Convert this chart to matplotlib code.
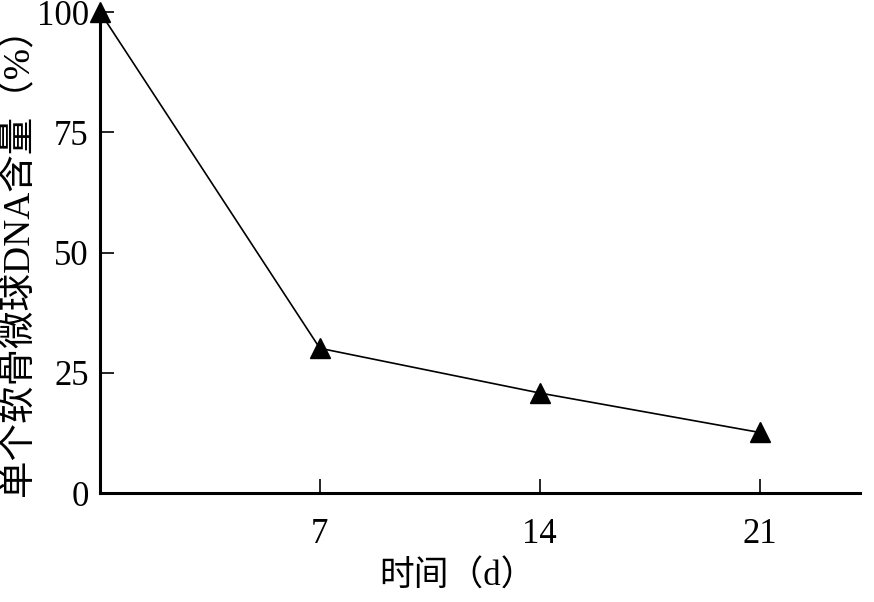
import matplotlib
matplotlib.use("Agg")
import matplotlib.pyplot as plt

plt.rcParams['font.family'] = ['Liberation Serif', 'Noto Sans CJK SC']

days = [0, 7, 14, 21]
dna_content = [100, 30.1, 20.8, 12.6]
x_ticks = [7, 14, 21]
y_ticks = [0, 25, 50, 75, 100]

fig = plt.figure(figsize=(8.74, 6.02), dpi=100)
ax = fig.add_axes([0.1144, 0.181, 0.8696, 0.799])

ax.plot(days, dna_content, color='black', linewidth=1.2, marker='^',
        markersize=15, markerfacecolor='black', markeredgecolor='black', clip_on=False)

ax.set_xlim(0, 24.2)
ax.set_ylim(0, 100)
ax.set_xticks(x_ticks)
ax.set_yticks(y_ticks)
ax.tick_params(axis='both', direction='in', length=10, width=1.2, labelsize=25, pad=8)
ax.tick_params(axis='x', pad=18)

for side in ['top', 'right']:
    ax.spines[side].set_visible(False)
for side in ['left', 'bottom']:
    ax.spines[side].set_linewidth(2.2)

ax.set_xlabel('时间（d）', fontsize=25)
ax.set_ylabel('单个软骨微球DNA含量（%）', fontsize=27)
ax.xaxis.set_label_coords(0.47, -0.14)
ax.yaxis.set_label_coords(-0.085, 0.5)

fig.savefig('out.png', dpi=100)
